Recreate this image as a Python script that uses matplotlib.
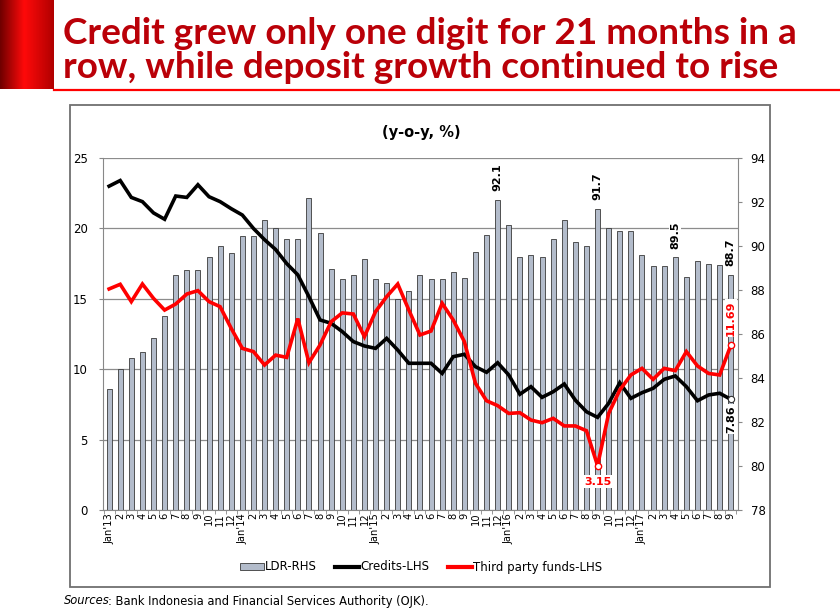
import numpy as np
import matplotlib
matplotlib.use("Agg")
import matplotlib.pyplot as plt
from matplotlib.patches import Patch, Rectangle
from matplotlib.lines import Line2D
from matplotlib.colors import LinearSegmentedColormap

# ---------------- data ----------------
years = ["13", "14", "15", "16", "17"]
months_per_year = [12, 12, 12, 12, 9]
labels = []
for y, n in zip(years, months_per_year):
    for m in range(1, n + 1):
        labels.append("Jan'" + y if m == 1 else str(m))

ldr = [83.5, 84.4, 84.9, 85.2, 85.8, 86.8, 88.7, 88.9, 88.9, 89.5, 90.0, 89.7,
       90.45, 90.45, 91.2, 90.8, 90.3, 90.3, 92.2, 90.6, 88.95, 88.5, 88.7, 89.4,
       88.5, 88.3, 87.6, 87.95, 88.7, 88.5, 88.5, 88.8, 88.55, 89.75, 90.5, 92.1,
       90.95, 89.5, 89.6, 89.5, 90.3, 91.2, 90.2, 90.0, 91.7, 90.8, 90.7, 90.7,
       89.6, 89.1, 89.1, 89.5, 88.6, 89.3, 89.2, 89.15, 88.7]

credit = [23.0, 23.4, 22.2, 21.9, 21.1, 20.65, 22.3, 22.2, 23.1, 22.25, 21.9, 21.4,
          20.95, 20.0, 19.2, 18.5, 17.5, 16.7, 15.15, 13.5, 13.26, 12.67, 11.96, 11.65,
          11.48, 12.19, 11.36, 10.42, 10.42, 10.42, 9.7, 10.89, 11.06, 10.18, 9.78, 10.46,
          9.59, 8.22, 8.76, 8.0, 8.4, 8.95, 7.8, 6.98, 6.58, 7.58, 9.04, 7.93,
          8.33, 8.64, 9.28, 9.52, 8.76, 7.76, 8.17, 8.29, 7.86]

tpf = [15.7, 16.03, 14.8, 16.05, 15.03, 14.2, 14.63, 15.34, 15.58, 14.8, 14.44, 12.9,
       11.48, 11.25, 10.3, 11.0, 10.84, 13.6, 10.46, 11.72, 13.37, 14.0, 13.92, 12.31,
       14.09, 15.15, 16.05, 14.2, 12.43, 12.71, 14.68, 13.49, 11.96, 9.0, 7.76, 7.41,
       6.86, 6.91, 6.39, 6.2, 6.51, 5.97, 5.97, 5.63, 3.15, 6.86, 8.52, 9.59,
       10.06, 9.28, 10.06, 9.9, 11.25, 10.23, 9.7, 9.59, 11.69]

ldr_labelled = [35, 44, 51, 56]      # indices whose LDR value is written
tpf_min_idx = 44                     # Sep'16
last = len(labels) - 1

title1 = "Credit grew only one digit for 21 months in a"
title2 = "row, while deposit growth continued to rise"
subtitle = "(y-o-y, %)"

# ---------------- figure ----------------
W, H = 840, 613
fig = plt.figure(figsize=(W / 100, H / 100), dpi=100)
fig.patch.set_facecolor("white")
plt.rcParams["font.family"] = ["DejaVu Sans"]

def fx(px):
    return px / W

def fy(py):
    return 1 - py / H

# red gradient block on the left
gax = fig.add_axes([0, fy(89), fx(54), 89 / H])
grad = np.linspace(0, 1, 256)
cmap = LinearSegmentedColormap.from_list(
    "g", [(0, "#6e0000"), (0.45, "#ff0a0a"), (1.0, "#b00000")])
gax.imshow(grad[None, :], aspect="auto", cmap=cmap, extent=[0, 1, 0, 1])
gax.set_axis_off()

fig.add_artist(Line2D([fx(54), 1], [fy(90), fy(90)], color="#ff0000", lw=1.6))

# title lines (fit to measured width)
title_color = "#ba0008"
t1 = fig.text(fx(63), fy(44), title1, fontsize=28, color=title_color,
              fontweight="bold", family="Lato", va="baseline", ha="left")
t2 = fig.text(fx(63), fy(78), title2, fontsize=28, color=title_color,
              fontweight="bold", family="Lato", va="baseline", ha="left")
fig.canvas.draw()
r = fig.canvas.get_renderer()
w1 = t1.get_window_extent(r).width
fs = 28 * 734 / w1
t1.set_fontsize(fs)
t2.set_fontsize(fs)

# chart frame
fig.add_artist(Rectangle((fx(70), fy(587)), 700 / W, 482 / H, fill=False,
                         edgecolor="#707070", lw=1.3, transform=fig.transFigure))

rect = [fx(103), fy(510), (738 - 103) / W, (510 - 158) / H]

# grid (background)
gbg = fig.add_axes(rect, zorder=0)
gbg.set_xlim(-0.55, last + 0.65)
gbg.set_ylim(0, 25)
gbg.set_yticks([0, 5, 10, 15, 20, 25])
gbg.grid(axis="y", color="#8c8c8c", lw=0.9)
gbg.tick_params(left=False, bottom=False, labelleft=False, labelbottom=False)
for s in gbg.spines.values():
    s.set_visible(False)

x = np.arange(len(labels))

# bars on right axis
ax2 = fig.add_axes(rect, zorder=1)
ax2.patch.set_visible(False)
ax2.bar(x, ldr, width=0.45, bottom=0, color="#b3bccb", edgecolor="#3a3a3a",
        lw=0.6)
ax2.set_ylim(78, 94)
ax2.set_xlim(-0.55, last + 0.65)
ax2.yaxis.tick_right()
ax2.set_yticks(range(78, 95, 2))
ax2.tick_params(axis="y", labelsize=8.5, length=3, color="#888888", pad=6)
ax2.tick_params(axis="x", bottom=False, labelbottom=False)
for k, s in ax2.spines.items():
    s.set_visible(k == "right")
ax2.spines["right"].set_color("#888888")

for i in ldr_labelled:
    ax2.annotate(f"{ldr[i]:.1f}", (x[i], ldr[i]), xytext=(0, 6),
                 textcoords="offset points", rotation=90, ha="center",
                 va="bottom", fontsize=8, fontweight="bold",
                 bbox=dict(boxstyle="square,pad=0.1", fc="white", ec="none"))

# lines on left axis
ax = fig.add_axes(rect, zorder=2)
ax.patch.set_visible(False)
ax.plot(x, credit, color="black", lw=2.6, solid_joinstyle="miter")
ax.plot(x, tpf, color="#ff0000", lw=2.6, solid_joinstyle="miter")
ax.plot([x[tpf_min_idx], x[last]], [tpf[tpf_min_idx], tpf[last]], ls="none",
        marker="o", ms=4.5, mfc="white", mec="#ff0000", mew=1.0)
ax.plot([x[last]], [credit[last]], ls="none", marker="o", ms=4.5,
        mfc="white", mec="#333333", mew=0.8)
ax.set_ylim(0, 25)
ax.set_xlim(-0.55, last + 0.65)
ax.set_yticks(range(0, 26, 5))
ax.tick_params(axis="y", labelsize=8.5, length=3, color="#888888", pad=8)
ax.set_xticks(x)
ax.set_xticklabels(labels, rotation=90, fontsize=7.1)
ax.tick_params(axis="x", length=0, pad=2)
ax.set_xticks(np.arange(-0.5, last + 1, 1), minor=True)
ax.tick_params(axis="x", which="minor", length=3, color="#888888")
for k, s in ax.spines.items():
    s.set_visible(k in ("left", "bottom"))
    s.set_color("#888888")

ax.annotate(f"{tpf[last]:.2f}", (x[last], tpf[last]), xytext=(0, 7),
            textcoords="offset points", rotation=90, ha="center", va="bottom",
            fontsize=8, fontweight="bold", color="#ff0000",
            bbox=dict(boxstyle="square,pad=0.1", fc="white", ec="none"))
ax.annotate(f"{credit[last]:.2f}", (x[last], credit[last]), xytext=(0, -4),
            textcoords="offset points", rotation=90, ha="center", va="top",
            fontsize=8, fontweight="bold", color="black",
            bbox=dict(boxstyle="square,pad=0.1", fc="white", ec="none"))
ax.annotate(f"{tpf[tpf_min_idx]:.2f}", (x[tpf_min_idx], tpf[tpf_min_idx]),
            xytext=(0, -8), textcoords="offset points", ha="center", va="top",
            fontsize=8, fontweight="bold", color="#ff0000",
            bbox=dict(boxstyle="square,pad=0.15", fc="white", ec="none"))

fig.text(fx(421), fy(132), subtitle, ha="center", va="center", fontsize=10.5,
         fontweight="bold")

# legend
handles = [Patch(facecolor="#b3bccb", edgecolor="#3a3a3a", lw=0.6),
           Line2D([], [], color="black", lw=3),
           Line2D([], [], color="#ff0000", lw=3)]
fig.legend(handles, ["LDR-RHS", "Credits-LHS", "Third party funds-LHS"],
           loc="center", bbox_to_anchor=(fx(421), fy(567)), ncol=3,
           frameon=False, fontsize=8.5, handlelength=2.0, handleheight=0.6,
           handletextpad=0.1, columnspacing=1.6)

# sources
s1 = fig.text(fx(64), fy(601), "Sources", style="italic", fontsize=8.3,
              va="center", ha="left")
fig.canvas.draw()
bb = s1.get_window_extent(fig.canvas.get_renderer())
fig.text((bb.x1 - 1.5) / W, fy(601),
         ": Bank Indonesia and Financial Services Authority (OJK).",
         fontsize=8.3, va="center", ha="left")

fig.savefig("out.png", dpi=100, facecolor="white")
